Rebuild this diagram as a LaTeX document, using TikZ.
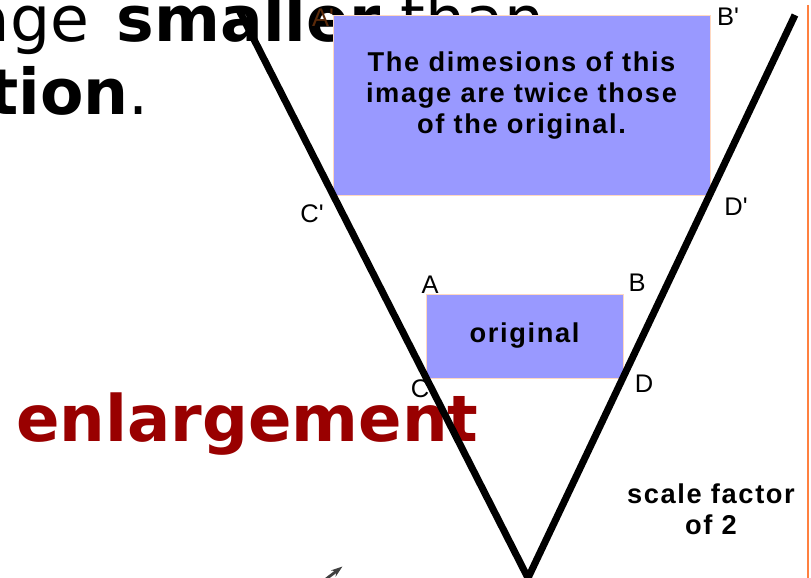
\documentclass[tikz,border=0pt]{standalone}
\usepackage{fontspec}
\usepackage{tikz}
\usetikzlibrary{arrows.meta,positioning}
\newfontfamily\slidefont{DejaVu Sans}
\newfontfamily\paintfont[LetterSpace=6]{Liberation Sans}
\definecolor{ink}{HTML}{000000}
\definecolor{periwinkle}{HTML}{9999FF}
\definecolor{edgepeach}{HTML}{FFD8C0}
\definecolor{darkred}{HTML}{990000}
\definecolor{rulecol}{HTML}{FF8040}
\definecolor{primeedge}{HTML}{5A2A0A}
\tikzset{
  >={Stealth[length=2.3mm,width=1.55mm]},
  heading/.style={font=\slidefont\fontsize{36}{42}\selectfont,anchor=base west,inner sep=0pt},
  figbox/.style={draw=edgepeach,fill=periwinkle,line width=.4pt,inner sep=0pt},
  boxtext/.style={font=\paintfont\bfseries\fontsize{15.5}{17.6}\selectfont,align=center},
  corner/.style={font=\paintfont\fontsize{14.5}{16}\selectfont,inner sep=0pt},
  ray/.style={line width=4pt,color=ink},
  edgerule/.style={line width=1.1pt,color=rulecol},
}

\begin{document}
\begin{tikzpicture}[x=1cm,y=1cm]
  \useasboundingbox (0,0) rectangle (16.22,-11.56);
  \clip (0,0) rectangle (16.22,-11.56);
  \fill[white] (0,0) rectangle (16.22,-11.56);

  % slide text behind the figure
  \node[heading] (head1) at (-0.57,-0.84) {age\hspace{0.14cm} \textbf{smaller} than};
  \node[heading] (head2) at (-0.24,-2.30) {\textbf{tion}.};
  \node[heading,text=darkred,font=\slidefont\bfseries\fontsize{36.5}{42}\selectfont]
    (enl) at (0.32,-8.84) {enlargement};

  \node[corner,text=primeedge] (labAp) at (6.46,-0.36) {A\textquotesingle};

  % image and original
  \node[figbox,minimum width=7.54cm,minimum height=3.60cm] (image) at (10.43,-2.10) {};
  \node[boxtext,below=0.62cm of image.north] (imagetext)
    {The dimesions of this\\image are twice those\\of the original.};
  \node[figbox,boxtext,minimum width=3.94cm,minimum height=1.68cm] (orig) at (10.49,-6.72) {original};

  \node[corner] (labC) at (8.40,-7.78) {C};

  % rays from the centre of enlargement
  \coordinate (centre) at (10.56,-11.56);
  \coordinate (ltop) at (4.78,-0.20);
  \coordinate (rtop) at (15.90,-0.30);
  \draw[ray] (ltop) -- (centre) -- (rtop);

  \node[corner] (labA) at (8.60,-5.70) {A};
  \node[corner] (labB) at (12.74,-5.66) {B};
  \node[corner] (labD) at (12.88,-7.68) {D};
  \node[corner] (labCp) at (6.24,-4.28) {C\textquotesingle};
  \node[corner] (labDp) at (14.72,-4.14) {D\textquotesingle};
  \node[corner] (labBp) at (14.56,-0.34) {B\textquotesingle};

  \node[boxtext] (scale) at (14.22,-10.18) {scale factor\\of 2};

  \coordinate (ruletop) at (16.16,-0.10);
  \coordinate (rulebot) at (16.16,-11.56);
  \draw[edgerule] (ruletop) -- (rulebot);

  \coordinate (tailend) at (6.30,-11.75);
  \coordinate (tipend) at (6.85,-11.33);
  \draw[->,line width=1.6pt,black!75] (tailend) -- (tipend);
\end{tikzpicture}
\end{document}
